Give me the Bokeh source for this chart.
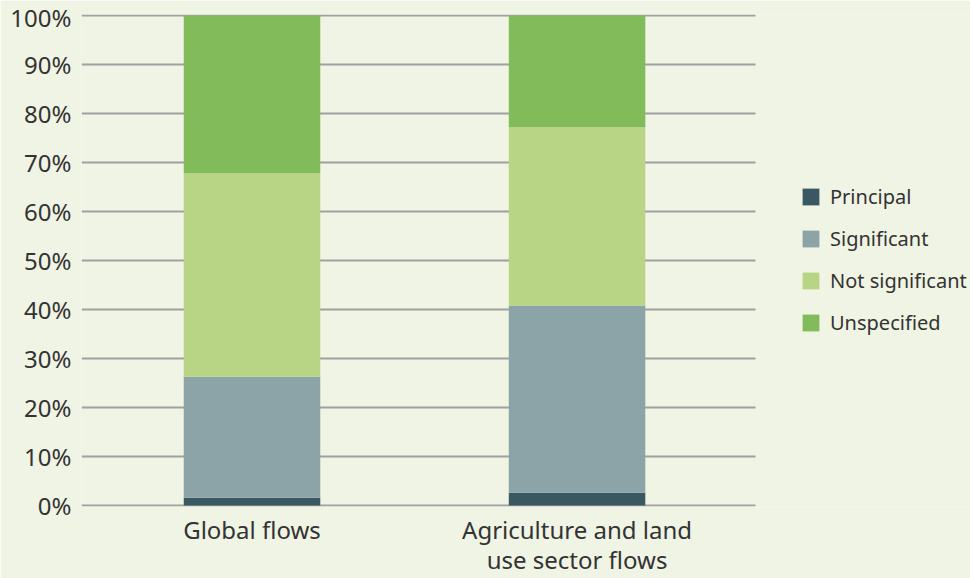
from bokeh.plotting import figure
from bokeh.models import Range1d, FixedTicker, Legend, LegendItem, ColumnDataSource, LinearAxis, Grid
from bokeh.embed import file_html
from bokeh.resources import INLINE

categories = ["Global flows", "Agriculture and land\nuse sector flows"]
series = ["Principal", "Significant", "Not significant", "Unspecified"]
principal = [1.6, 2.6]
significant = [24.7, 38.2]
not_significant = [41.5, 36.4]
unspecified = [32.2, 22.8]
y_ticks = [0, 10, 20, 30, 40, 50, 60, 70, 80, 90, 100]
colors = ["#3a5862", "#8ca3a8", "#b8d585", "#82bb5a"]
BG = "#f0f4e4"

X_START, X_GRID_END, X_END = -0.5246, 1.549, 2.2105

xs = list(range(len(categories)))
source = ColumnDataSource(dict(x=xs, Principal=principal, Significant=significant,
                               **{"Not significant": not_significant, "Unspecified": unspecified}))

p = figure(width=970, height=578, output_backend="svg", toolbar_location=None,
           x_range=Range1d(X_START, X_END), y_range=Range1d(-0.2, 100.2),
           min_border_left=81, min_border_right=0, min_border_top=14, min_border_bottom=72)
p.background_fill_color = BG
p.border_fill_color = BG
p.outline_line_color = None

rs = p.vbar_stack(series, x="x", width=0.42, source=source, color=colors, line_color=None)

lines1 = [c.split("\n")[0] for c in categories]
lines2 = [c.split("\n")[1] if "\n" in c else "" for c in categories]

p.yaxis.ticker = FixedTicker(ticks=y_ticks)
p.yaxis.major_label_overrides = {t: f"{t}%" for t in y_ticks}
p.xaxis.ticker = FixedTicker(ticks=xs)
p.xaxis.major_label_overrides = {i: c for i, c in enumerate(lines1)}
ax2 = LinearAxis(ticker=FixedTicker(ticks=xs),
                 major_label_overrides={i: c for i, c in enumerate(lines2)})
p.add_layout(ax2, "below")
for ax in (p.xaxis[0], ax2, p.yaxis[0]):
    ax.axis_line_color = None
    ax.major_tick_line_color = None
    ax.minor_tick_line_color = None
    ax.major_tick_in = 0
    ax.major_tick_out = 0
    ax.major_label_text_font = "Noto Sans"
    ax.major_label_text_font_size = "24px"
    ax.major_label_text_color = "#333333"
p.yaxis.major_label_standoff = 10
p.xaxis[0].major_label_standoff = 6
ax2.major_label_standoff = -6

p.xgrid.grid_line_color = None
p.ygrid.grid_line_color = None
if "cross_bounds" in Grid.properties():
    g = Grid(dimension=1, ticker=FixedTicker(ticks=y_ticks), cross_bounds=(X_START, X_GRID_END),
             grid_line_color="#a0a0a0", grid_line_width=2)
    p.add_layout(g)
else:
    p.segment(x0=[X_START] * len(y_ticks), y0=y_ticks, x1=[X_GRID_END] * len(y_ticks), y1=y_ticks,
              line_color="#a0a0a0", line_width=2, level="underlay")

legend = Legend(items=[LegendItem(label=s, renderers=[r]) for s, r in zip(series, rs)],
                location=(719, 170), orientation="vertical")
legend.background_fill_alpha = 0
legend.border_line_color = None
legend.label_text_font = "Noto Sans"
legend.label_text_font_size = "20px"
legend.label_text_color = "#333333"
legend.glyph_width = 21
legend.glyph_height = 21
legend.label_standoff = 9
legend.spacing = 15
legend.margin = 0
legend.padding = 0
legend.label_height = 26
p.add_layout(legend)

open("out.html", "w").write(file_html(p, INLINE))
